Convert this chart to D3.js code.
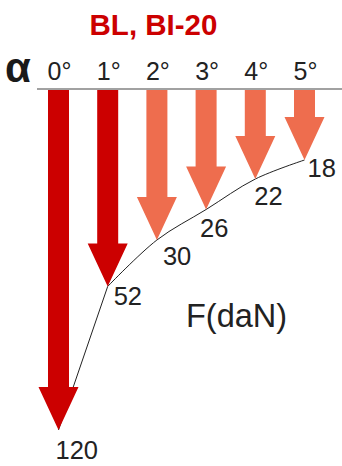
<!DOCTYPE html>
<html><head><meta charset="utf-8">
<script src="https://cdn.jsdelivr.net/npm/d3@7"></script>
<style>html,body{margin:0;padding:0;background:#fff;}svg{display:block;}</style>
</head><body>
<script>
// ---- data ----
const categories = ["0°", "1°", "2°", "3°", "4°", "5°"];
const forces = [120, 52, 30, 26, 22, 18];
const groups = ["dark", "dark", "light", "light", "light", "light"];
const title = "BL, BI-20";
const unitLabel = "F(daN)";
const axisSymbol = "α";

// ---- layout ----
const W = 342, H = 466, baseY = 89;
const svg = d3.select("body").append("svg").attr("width", W).attr("height", H)
  .style("font-family", "'Liberation Sans', Arial, sans-serif");

const x = d3.scalePoint().domain(categories).range([58.5, 304.5]);
// illustrative (non-linear) force -> arrow length mapping
const len = d3.scaleLinear().domain([18, 22, 30, 120]).range([71, 90, 151, 341]);
const color = d3.scaleOrdinal().domain(["dark", "light"]).range(["#CC0000", "#EE6D4E"]);

const shaftW = 21, headW = 40, headL = 43;
const pts = categories.map((c, i) => ({ c, f: forces[i], g: groups[i], x: x(c), y: baseY + len(forces[i]) }));

// title
svg.append("text").attr("x", 153.5).attr("y", 35).attr("text-anchor", "middle")
  .attr("font-size", 29.5).attr("font-weight", "bold").attr("fill", "#CC0000").text(title);

// alpha
svg.append("text").attr("x", 5).attr("y", 82).attr("font-size", 42).attr("font-weight", "bold")
  .attr("fill", "#1a1a1a").text(axisSymbol);

// tick labels
svg.append("g").selectAll("text").data(pts).join("text")
  .attr("x", d => d.x + 1).attr("y", 80).attr("text-anchor", "middle")
  .attr("font-size", 25).attr("fill", "#222").text(d => d.c);

// axis line
svg.append("line").attr("x1", 37).attr("x2", W).attr("y1", baseY).attr("y2", baseY)
  .attr("stroke", "#444").attr("stroke-width", 1.2);

// curve through tips (behind arrows): straight first segment, smooth remainder
const lineStyle = p => p.attr("fill", "none").attr("stroke", "#222").attr("stroke-width", 1);
svg.append("path").datum(pts.slice(0, 2))
  .attr("d", d3.line().x(d => d.x).y(d => d.y)).call(lineStyle);
svg.append("path").datum(pts.slice(1))
  .attr("d", d3.line().x(d => d.x).y(d => d.y).curve(d3.curveCatmullRom.alpha(0.5))).call(lineStyle);

// arrows
svg.append("g").selectAll("path").data(pts).join("path")
  .attr("d", d => {
    const t = baseY + 1, hs = d.y - headL, cx = d.x;
    return `M${cx - shaftW / 2},${t}L${cx + shaftW / 2},${t}L${cx + shaftW / 2},${hs}L${cx + headW / 2},${hs}L${cx},${d.y}L${cx - headW / 2},${hs}L${cx - shaftW / 2},${hs}Z`;
  })
  .attr("fill", d => color(d.g));

// value labels
const nudge = [[-3, 29], [6, 19], [6, 25], [-6, 27], [-1, 26], [3, 17]];
svg.append("g").selectAll("text").data(pts).join("text")
  .attr("x", (d, i) => d.x + nudge[i][0]).attr("y", (d, i) => d.y + nudge[i][1])
  .attr("font-size", 25.5).attr("fill", "#222").text(d => d.f);

// unit label
svg.append("text").attr("x", 186).attr("y", 327).attr("font-size", 32.5).attr("fill", "#222").text(unitLabel);
</script>
</body></html>
